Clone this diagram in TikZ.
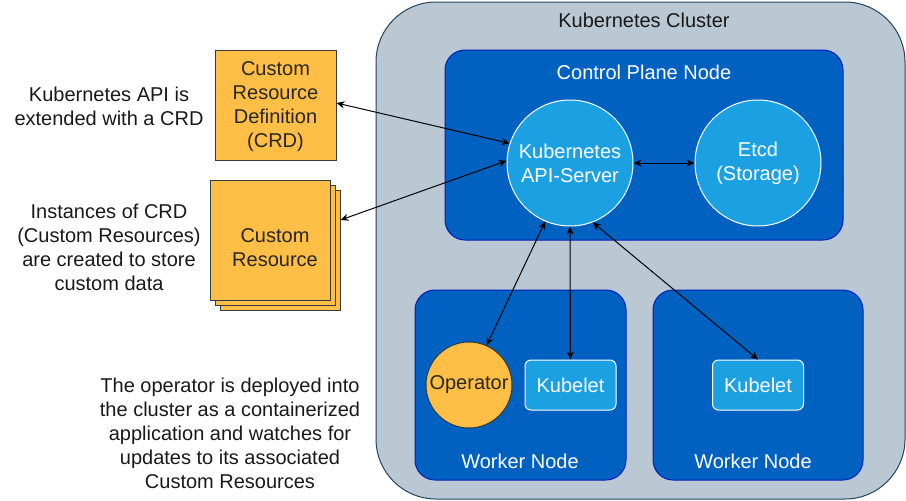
\documentclass[tikz,border=0pt]{standalone}
\usepackage{fontspec}
\setmainfont{Liberation Sans}
\usetikzlibrary{arrows.meta}
\definecolor{clfill}{HTML}{BAC8D3}
\definecolor{cldraw}{HTML}{23445D}
\definecolor{ndfill}{HTML}{0061C1}
\definecolor{nddraw}{HTML}{001DBC}
\definecolor{ltblue}{HTML}{1BA1E2}
\definecolor{orng}{HTML}{FFBE45}
\definecolor{orngdraw}{HTML}{36393D}
\tikzset{cl/.style = {rounded corners=60pt, draw=cldraw, fill=clfill, line width=1pt, inner sep=0pt},
           nd/.style = {rounded corners=20pt, draw=nddraw, fill=ndfill, line width=1pt, inner sep=0pt},
           ci/.style = {circle, draw=white, fill=ltblue, text=white, align=center, inner sep=0pt, line width=1pt},
           kb/.style = {rounded corners=6pt, draw=white, fill=ltblue, text=white, minimum width=91pt, minimum height=50pt, inner sep=0pt, line width=1pt},
           ob/.style = {draw=orngdraw, fill=orng, text=black!85, align=center, inner sep=0pt, line width=1pt},
           wl/.style = {text=white},
           tx/.style = {align=center, text=black!90}}

\begin{document}
\begin{tikzpicture}[x=1pt, y=-1pt, font=\fontsize{20}{24}\selectfont, >={Stealth[length=8pt, width=7pt]}]
    \useasboundingbox (0,0) rectangle (906,501);
    % containers
    \node[cl, minimum width=529pt, minimum height=497pt] (cluster) at (640.5,250.5) {};
    \node[tx] (clusterl) at (644,20) {Kubernetes Cluster};
    \node[nd, minimum width=398pt, minimum height=190pt] (cp) at (644,145) {};
    \node[wl] (cpl) at (644,72) {Control Plane Node};
    \node[nd, minimum width=211pt, minimum height=190pt] (wa) at (520.5,385) {};
    \node[wl] (wal) at (520,461) {Worker Node};
    \node[nd, minimum width=210pt, minimum height=190pt] (wb) at (758,385) {};
    \node[wl] (wbl) at (753,461) {Worker Node};
    % components
    \node[ci, minimum size=126pt] (api) at (570,163) {Kubernetes\\API-Server};
    \node[ci, minimum size=126pt] (etcd) at (758,163) {Etcd\\(Storage)};
    \node[ob, circle, minimum size=86pt] (op) at (469,385) {Operator};
    \node[kb] (kba) at (570.5,385) {Kubelet};
    \node[kb] (kbb) at (758,385) {Kubelet};
    % custom resources
    \node[ob, minimum width=121pt, minimum height=110pt] (crd) at (275.5,105) {};
    \node[tx, text=black!85] (crdl) at (275.5,107) {Custom\\Resource\\Definition\\(CRD)};
    \node[ob, minimum width=120pt, minimum height=120pt] (cr3) at (280,250) {};
    \node[ob, minimum width=120pt, minimum height=120pt] (cr2) at (275,245) {};
    \node[ob, minimum width=120pt, minimum height=120pt] (cr) at (270,240) {};
    \node[tx, text=black!85] (crl) at (275,248) {Custom\\Resource};
    % notes
    \node[tx] (n1) at (109,106) {Kubernetes API is\\extended with a CRD};
    \node[tx] (n2) at (109,247) {Instances of CRD\\(Custom Resources)\\are created to store\\custom data};
    \node[tx] (n3) at (230,433) {The operator is deployed into\\the cluster as a containerized\\application and watches for\\updates to its associated\\Custom Resources};
    % connections
    \draw[<->, line width=1pt] ([yshift=2pt]crd.east) -- (api.162);
    \draw[<->, line width=1pt] ([yshift=30pt]cr3.east) -- (api.178);
    \draw[<->, line width=1pt] (api.east) -- (etcd.west);
    \draw[<->, line width=1pt] (api.247) -- (op.66);
    \draw[<->, line width=1pt] (api.south) -- (kba.north);
    \draw[<->, line width=1pt] (api.291) -- (kbb.north);
\end{tikzpicture}
\end{document}
